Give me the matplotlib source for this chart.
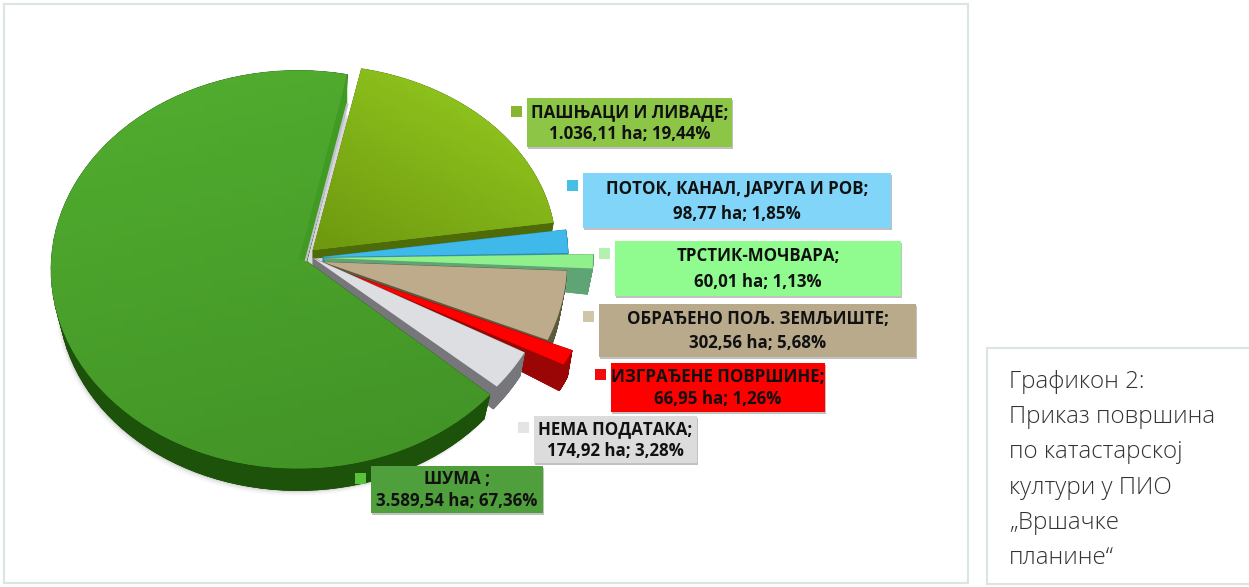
#!/usr/bin/env python
# -*- coding: utf-8 -*-

import numpy as np
import matplotlib
matplotlib.use('Agg')
import matplotlib.pyplot as plt
from matplotlib.colors import LinearSegmentedColormap
from matplotlib.patches import Polygon, Rectangle

plt.rcParams['font.family'] = ['Open Sans', 'DejaVu Sans']

# order = clockwise around the pie
names = ['ПАШЊАЦИ И ЛИВАДЕ;', 'ПОТОК, КАНАЛ, ЈАРУГА И РОВ;', 'ТРСТИК-МОЧВАРА;',
         'ОБРАЂЕНО ПОЉ. ЗЕМЉИШТЕ;', 'ИЗГРАЂЕНЕ ПОВРШИНЕ;', 'НЕМА ПОДАТАКА;', 'ШУМА ;']
hectares = [1036.11, 98.77, 60.01, 302.56, 66.95, 174.92, 3589.54]
percents = [19.44, 1.85, 1.13, 5.68, 1.26, 3.28, 67.36]
caption = ['Графикон 2:', 'Приказ површина', 'по катастарској',
           'култури у ПИО', '„Вршачке', 'планине“']

top_colors = ['#84b81c', '#3fb9ea', '#8ff08c', '#bdab8c', '#fe0000', '#dddee2', '#4ba52c']
side_colors = ['#4d6b08', '#2b8db5', '#5ea474', '#5d5a3c', '#9a0505', '#77777b', '#1c5209']
box_colors = ['#8dc647', '#80d5f8', '#90fb8e', '#b9aa8c', '#fe0000', '#dcdcdc', '#4f9f3c']
key_colors = ['#8ab52e', '#45bfe6', '#b4f0b0', '#cfc6a8', '#f00c0c', '#e4e4e4', '#58c23a']

# slice geometry in pixels: centre, apex, radii, angle nudge, side scale, depth
geom = [
    dict(c=(313, 250), a=(313, 250), rx=243, ry=185, rot=0.0, sc=0.98, d=26),
    dict(c=(323, 257), a=(323, 257), rx=245, ry=200, rot=0.7, sc=0.98, d=26),
    dict(c=(325, 258), a=(325, 258), rx=268, ry=200, rot=0.8, sc=0.98, d=26),
    dict(c=(323, 262), a=(323, 262), rx=244, ry=200, rot=0.3, sc=0.98, d=26),
    dict(c=(343, 272), a=(343, 272), rx=249, ry=200, rot=0.4, sc=0.98, d=28),
    dict(c=(313, 258), a=(313, 258), rx=240, ry=200, rot=1.0, sc=0.98, d=25),
    dict(c=(298, 269.5), a=(305, 260), rx=247, ry=199, rot=0.0, sc=0.97, d=28),
]
boxes = [(527, 98, 732, 147), (583, 173, 891, 228), (615, 241, 901, 296), (599, 304, 916, 357),
         (611, 363, 825, 412), (534, 416, 697, 463), (371, 466, 543, 513)]
keys = [(511, 106), (567, 180), (599, 248), (583, 311), (595, 369), (518, 422), (355, 473)]
START = 11.5


def num(v):
    s = format(v, ',.2f')
    return s.replace(',', ' ').replace('.', ',').replace(' ', '.')


def arc_points(g, t0, t1):
    t = np.radians(np.linspace(t0 + g['rot'], t1 + g['rot'], 90))
    x = g['c'][0] + g['rx'] * np.sin(t)
    y = g['c'][1] - g['ry'] * np.cos(t)
    return np.column_stack([x, y])


def draw_slice(ax, g, t0, t1, top, side, z, grad=None):
    arc = arc_points(g, t0, t1)
    apex = np.array(g['a'], dtype=float)
    c = np.array(g['c'], dtype=float)
    low = c + g['sc'] * (arc - c) + np.array([0, g['d']])
    low_apex = apex + np.array([0, 8])
    ring = np.vstack([[apex], arc])
    low_ring = np.vstack([[low_apex], low])
    for i in range(len(ring)):
        j = (i + 1) % len(ring)
        ax.add_patch(Polygon([ring[i], ring[j], low_ring[j], low_ring[i]], fc=side, ec=side, lw=0.5, zorder=z))
    ax.add_patch(Polygon(low_ring, fc=side, ec=side, lw=0.5, zorder=z))
    face = Polygon(ring, fc=top, ec='none', zorder=z + 0.5)
    ax.add_patch(face)
    if grad is not None:
        xs, ys = ring[:, 0], ring[:, 1]
        im = ax.imshow(grad[0], cmap=LinearSegmentedColormap.from_list('g', grad[1]), aspect='auto',
                       extent=(xs.min(), xs.max(), ys.max(), ys.min()), zorder=z + 0.6, vmin=0, vmax=1)
        im.set_clip_path(face)
    return ring, low


fig = plt.figure(figsize=(12.49, 5.87), dpi=100)
ax = fig.add_axes([0, 0, 1, 1])

# frames
ax.add_patch(Rectangle((4, 4), 964, 579, fc='white', ec='#dbe5e1', lw=1.6, zorder=0))
ax.add_patch(Rectangle((987, 348), 270, 236, fc='white', ec='#dbe5e1', lw=1.6, zorder=0))

bounds = START + np.cumsum([0] + percents) * 3.6

yy, xx = np.mgrid[0:1:60j, 0:1:60j]
grad_past = (np.clip(0.5 * xx + 0.7 * (1 - yy) - 0.05, 0, 1), ['#6f9a10', '#93c91f'])
grad_forest = (np.clip(0.8 - 0.7 * yy + 0.2 * (1 - xx), 0, 1), ['#3f8f25', '#52ae2f'])

# painter order: upper slices first, forest slice goes last over the others
for i in range(6):
    draw_slice(ax, geom[i], bounds[i], bounds[i + 1], top_colors[i], side_colors[i], 2 + i,
               grad_past if i == 0 else None)

g = geom[6]
arc = arc_points(g, bounds[6], bounds[7])
low = np.array(g['c']) + g['sc'] * (arc - np.array(g['c'])) + np.array([0, g['d']])
for k, (off, al) in enumerate([(5, 0.05), (3, 0.08), (1.5, 0.12)]):
    ax.add_patch(Polygon(low + np.array([-off * 0.6, off]), fc='#555555', ec='none', alpha=al, zorder=1))
ring, low = draw_slice(ax, g, bounds[6], bounds[7], top_colors[6], side_colors[6], 9, grad_forest)

# inner wall of the forest slice next to the pasture slice
end = ring[-1]
apex = np.array(g['a'], dtype=float)
ax.add_patch(Polygon([end, end + [0, 30], apex, apex + [-6, 0]], fc='#3f9b22', ec='none', zorder=10))
ax.plot([end[0], apex[0] + 1], [end[1] + 30, apex[1]], color='#c2bfcc', lw=1.6, zorder=10)

# labels
for i in range(7):
    x0, y0, x1, y1 = boxes[i]
    ax.add_patch(Rectangle((x0 + 1.5, y0 + 2), x1 - x0, y1 - y0, fc='#777777', ec='none', alpha=0.45, zorder=11))
    ax.add_patch(Rectangle((x0, y0), x1 - x0, y1 - y0, fc=box_colors[i], ec='none', zorder=12))
    h = y1 - y0
    xc = (x0 + x1) / 2
    ax.text(xc, y0 + h * 0.28, names[i], ha='center', va='center', fontsize=12.2, fontweight='bold',
            color='#111111', zorder=13)
    ax.text(xc, y0 + h * 0.74, '%s ha; %s%%' % (num(hectares[i]), num(percents[i])), ha='center', va='center',
            fontsize=12.2, fontweight='bold', color='#111111', zorder=13)
    kx, ky = keys[i]
    ax.add_patch(Rectangle((kx, ky), 11, 11, fc=key_colors[i], ec='none', zorder=13))

# caption on the right
for i, line in enumerate(caption):
    ax.text(1009, 382 + i * 35.2, line, ha='left', va='center', fontsize=17.4, fontweight='light',
            color='#333333', zorder=13)

ax.set_xlim(0, 1249)
ax.set_ylim(587, 0)
ax.axis('off')
fig.savefig('out.png', dpi=100)
